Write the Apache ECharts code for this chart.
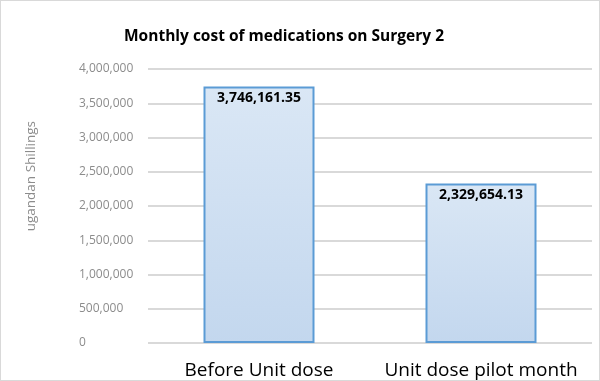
<!DOCTYPE html>
<html><head><meta charset="utf-8">
<script src="https://cdn.jsdelivr.net/npm/echarts@6/dist/echarts.min.js"></script>
<style>html,body{margin:0;padding:0;background:#fff}#c{width:598px;height:379px;border:1px solid #d9d9d9}</style>
</head><body><div id="c"></div>
<script>
var categories = ["Before Unit dose", "Unit dose pilot month"];
var values = [3746161.35, 2329654.13];
var valueLabels = ["3,746,161.35", "2,329,654.13"];
var yTicks = [0, 500000, 1000000, 1500000, 2000000, 2500000, 3000000, 3500000, 4000000];
var titleText = "Monthly cost of medications on Surgery 2";
var yTitle = "ugandan Shillings";

var chart = echarts.init(document.getElementById('c'), null, {renderer: 'canvas'});
var font = '"Open Sans", "Noto Sans", sans-serif';
chart.setOption({
  animation: false,
  textStyle: {fontFamily: font},
  title: {text: titleText, left: 118, top: 23,
    textStyle: {fontFamily: font, fontSize: 15.5, fontWeight: 'bold', color: '#000'}},
  graphic: [{type: 'text', left: 23, top: 120, rotation: Math.PI/2,
    style: {text: yTitle, fill: '#8c8c8c', font: '13.5px ' + font}}],
  grid: {left: 147, right: 7, top: 68, bottom: 37, containLabel: false},
  xAxis: {type: 'category', data: categories,
    axisLine: {show: false}, axisTick: {show: false},
    axisLabel: {color: '#000', fontSize: 19, margin: 18, fontFamily: font, interval: 0}},
  yAxis: {type: 'value', min: yTicks[0], max: yTicks[yTicks.length-1], interval: 500000,
    axisLine: {show: false}, axisTick: {show: false},
    splitLine: {lineStyle: {color: '#d9d9d9', width: 2}},
    axisLabel: {color: '#8c8c8c', fontSize: 12, align: 'left', margin: 69, fontFamily: font,
      formatter: function(v){ return v.toLocaleString('en-US'); }}},
  series: [{type: 'bar', data: values, barWidth: '50%',
    itemStyle: {
      color: new echarts.graphic.LinearGradient(0,0,0,1,[{offset:0,color:'#dae7f5'},{offset:1,color:'#c3d7ee'}]),
      borderColor: '#5b9bd5', borderWidth: 2},
    label: {show: true, position: 'insideTop', distance: 5, color: '#000', fontWeight: 'bold', fontSize: 14,
      fontFamily: font,
      formatter: function(p){ return valueLabels[p.dataIndex]; }}}]
});
</script></body></html>
